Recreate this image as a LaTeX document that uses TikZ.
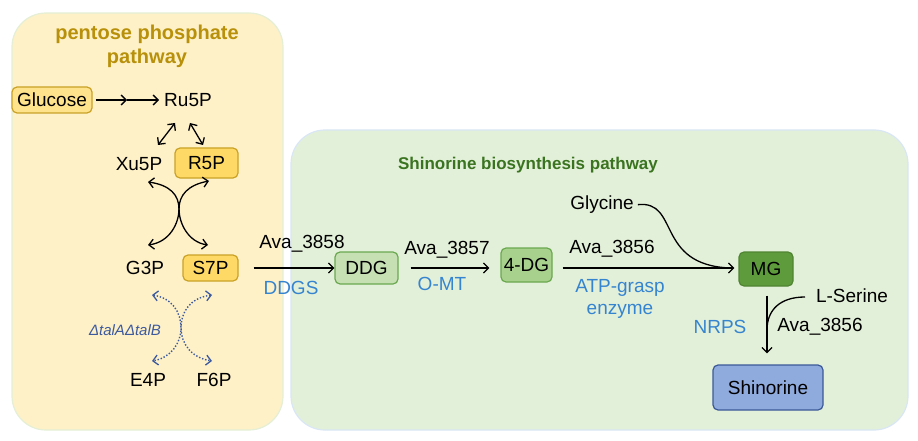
\documentclass[tikz,border=0pt]{standalone}
\usepackage{fontspec}
\setmainfont{Liberation Sans}
\usetikzlibrary{arrows.meta}

\definecolor{fondoamarillo}{HTML}{FEF1C8}
\definecolor{bordeamarillo}{HTML}{E4EFD6}
\definecolor{fondoverde}{HTML}{E3F0D9}
\definecolor{bordeverde}{HTML}{D9E6F6}
\definecolor{titulooro}{HTML}{B8900A}
\definecolor{tituloverde}{HTML}{3A7420}
\definecolor{cajaoro}{HTML}{FFD966}
\definecolor{lineaoro}{HTML}{C9A227}
\definecolor{verdeclaro}{HTML}{C6E0B4}
\definecolor{verdemedio}{HTML}{A9D18E}
\definecolor{verdeoscuro}{HTML}{5E9B3C}
\definecolor{lineaverde}{HTML}{6AA84F}
\definecolor{cajaazul}{HTML}{8FAADC}
\definecolor{lineaazul}{HTML}{3B5998}
\definecolor{azulenzima}{HTML}{3584D0}
\definecolor{azuloscuro}{HTML}{3D5A9E}

\newcommand{\txtnormal}{\fontsize{19}{22}\selectfont}

\tikzset{
    panel/.style={rounded corners=34pt, line width=1.2pt},
    caja/.style={draw, rounded corners=5pt, line width=1.2pt, inner sep=0pt, font=\txtnormal},
    texto/.style={inner sep=1pt, font=\txtnormal},
    enzima/.style={inner sep=1pt, font=\txtnormal, text=azulenzima, align=center},
    flecha/.style={line width=1.3pt, -{Straight Barb[length=5pt,width=10pt,line width=1.3pt]}},
    doble/.style={line width=1.3pt, {Straight Barb[length=5pt,width=10pt,line width=1.3pt]}-{Straight Barb[length=5pt,width=10pt,line width=1.3pt]}},
    punteada/.style={line width=1.4pt, azuloscuro, dash pattern=on 1.4pt off 1.8pt,
        {Straight Barb[length=5pt,width=10pt,line width=1.3pt]}-{Straight Barb[length=5pt,width=10pt,line width=1.3pt]}}
}

\begin{document}
\begin{tikzpicture}[x=1pt, y=-1pt]
    \useasboundingbox (0,0) rectangle (918,441);

    % Fondo de la via de las pentosas fosfato
    \draw[panel, fill=fondoamarillo, draw=bordeamarillo] (12,13) rectangle (283,430);
    \node[font=\fontsize{20}{24}\selectfont\bfseries, text=titulooro, align=center] (tituloppp) at (147,46) {pentose phosphate\\pathway};

    % Fondo de la via de biosintesis de shinorina
    \draw[panel, fill=fondoverde, draw=bordeverde] (291,130) rectangle (908,430);
    \node[font=\fontsize{17}{20}\selectfont\bfseries, text=tituloverde] (titulosh) at (528,165) {Shinorine biosynthesis pathway};

    % Metabolitos de la via de las pentosas
    \node[caja, fill=cajaoro!75!white, draw=lineaoro, minimum width=80pt, minimum height=26pt] (glucose) at (52,100) {Glucose};
    \node[texto] (ru5p) at (188,100) {Ru5P};
    \node[texto] (xu5p) at (139,164) {Xu5P};
    \node[caja, fill=cajaoro, draw=lineaoro, minimum width=63pt, minimum height=30pt] (r5p) at (206.5,163) {R5P};
    \node[texto] (g3p) at (145,268) {G3P};
    \node[caja, fill=cajaoro, draw=lineaoro, minimum width=55pt, minimum height=26pt] (s7p) at (210.5,268) {S7P};
    \node[texto] (e4p) at (148,380) {E4P};
    \node[texto] (f6p) at (214,380) {F6P};
    \node[inner sep=1pt, font=\fontsize{15}{18}\selectfont\itshape, text=azuloscuro] (delta) at (125,330) {ΔtalAΔtalB};

    % Glucosa hacia Ru5P (dos pasos)
    \coordinate (medio) at (127,100);
    \draw[flecha, shorten <=3pt] (glucose.east) -- (medio);
    \draw[flecha, shorten >=4pt] (medio) -- (ru5p.west);

    % Isomerasas alrededor de Ru5P
    \coordinate (ru5pa) at (175,123);
    \coordinate (ru5pb) at (190,123);
    \coordinate (xu5pa) at (158,145);
    \coordinate (r5pa) at (203,145);
    \draw[doble] (ru5pa) -- (xu5pa);
    \draw[doble] (ru5pb) -- (r5pa);

    % Transcetolasa (curvas cruzadas)
    \coordinate (xu5pb) at (148,182);
    \coordinate (r5pb) at (209,181);
    \coordinate (g3pa) at (148,245);
    \coordinate (s7pa) at (208,245);
    \coordinate (cruce) at (179,209);
    \draw[doble] (xu5pb) .. controls (170,185) and (179,195) .. (cruce) .. controls (179,223) and (188,242) .. (s7pa);
    \draw[doble] (r5pb) .. controls (188,185) and (179,195) .. (cruce) .. controls (179,223) and (170,242) .. (g3pa);

    % Transaldolasa eliminada (curvas punteadas)
    \coordinate (g3pb) at (152,295);
    \coordinate (s7pb) at (212,295);
    \coordinate (e4pa) at (152,361);
    \coordinate (f6pa) at (212,361);
    \coordinate (cruce2) at (181,328);
    \draw[punteada] (g3pb) .. controls (172,298) and (181,312) .. (cruce2) .. controls (181,344) and (192,358) .. (f6pa);
    \draw[punteada] (s7pb) .. controls (190,298) and (181,312) .. (cruce2) .. controls (181,344) and (170,358) .. (e4pa);

    % Intermediarios de la via de shinorina
    \node[caja, fill=verdeclaro, draw=lineaverde, minimum width=63pt, minimum height=32pt] (ddg) at (366.5,268) {DDG};
    \node[caja, fill=verdemedio, draw=lineaverde, minimum width=51pt, minimum height=34pt] (4dg) at (526.5,265) {4-DG};
    \node[caja, fill=verdeoscuro, draw=verdeoscuro!85!black, minimum width=54pt, minimum height=34pt] (mg) at (766,269) {MG};
    \node[caja, fill=cajaazul, draw=lineaazul, minimum width=110pt, minimum height=45pt] (shinorine) at (768,387.5) {Shinorine};
    \node[texto] (glycine) at (602,205) {Glycine};
    \node[texto] (lserine) at (852,296) {L-Serine};

    % S7P hacia DDG
    \draw[flecha, shorten <=15pt] (s7p.east) -- (ddg.west);
    \node[texto] (ava3858) at (302,244) {Ava\_3858};
    \node[enzima] (ddgs) at (291,288) {DDGS};

    % DDG hacia 4-DG
    \draw[flecha, shorten <=12pt, shorten >=11pt] (ddg.east |- 0,268) -- (4dg.west |- 0,268);
    \node[texto] (ava3857) at (447,250) {Ava\_3857};
    \node[enzima] (omt) at (442,284) {O-MT};

    % 4-DG hacia MG, con glicina
    \coordinate (union) at (730,268);
    \draw[flecha, shorten <=10pt, shorten >=4pt] (4dg.east |- 0,268) -- (mg.west |- 0,268);
    \draw[line width=1.3pt, shorten <=3pt] (glycine.east) .. controls (680,200) and (655,265) .. (union);
    \node[texto] (ava3856a) at (612,249) {Ava\_3856};
    \node[enzima] (atpgrasp) at (620,299) {ATP-grasp\\enzyme};

    % MG hacia shinorina, con L-serina
    \coordinate (union2) at (767,330);
    \coordinate (serinaini) at (805,297);
    \draw[flecha, shorten <=9pt, shorten >=11pt] (mg.south -| 767,0) -- (shinorine.north -| 767,0);
    \draw[line width=1.3pt] (serinaini) .. controls (780,297) and (767,310) .. (union2);
    \node[enzima] (nrps) at (720,327) {NRPS};
    \node[texto] (ava3856b) at (820,327) {Ava\_3856};

\end{tikzpicture}
\end{document}
